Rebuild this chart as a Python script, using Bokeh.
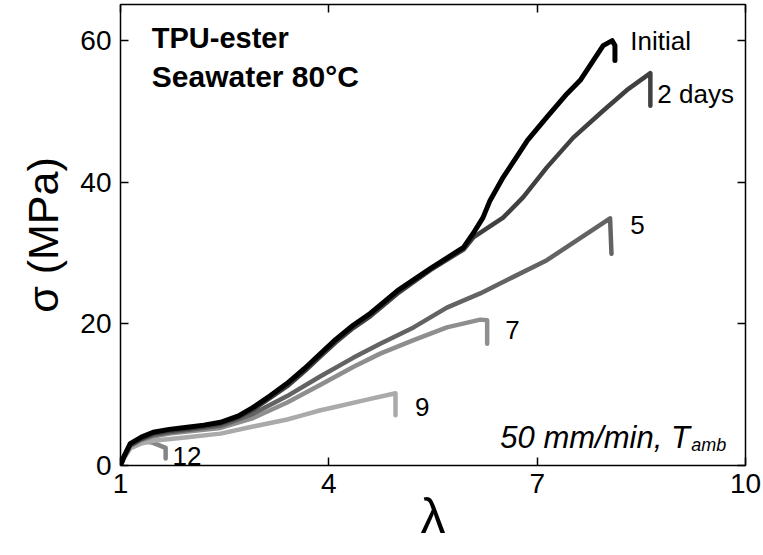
from bokeh.plotting import figure
from bokeh.models import Range1d, LinearAxis, FixedTicker, Label
from bokeh.embed import file_html
from bokeh.resources import INLINE

# ---- data ----
lam_initial = [1.0, 1.05, 1.14, 1.3, 1.47, 1.7, 1.96, 2.2, 2.44, 2.7, 2.91, 3.15, 3.40, 3.65, 3.88, 4.1, 4.35, 4.60,
               4.99, 5.46, 5.94, 6.08, 6.22, 6.32, 6.51, 6.70, 6.86, 7.14, 7.43, 7.62, 7.81, 7.95, 8.08, 8.12, 8.12]
sig_initial = [0.0, 1.3, 3.1, 4.0, 4.7, 5.1, 5.4, 5.7, 6.1, 7.0, 8.2, 9.8, 11.6, 13.7, 15.8, 17.8, 19.8, 21.5,
               24.7, 27.8, 30.8, 32.8, 35.0, 37.4, 40.7, 43.5, 45.9, 49.2, 52.5, 54.4, 57.2, 59.3, 60.0, 59.3, 57.2]

lam_2d = [1.0, 1.05, 1.14, 1.3, 1.47, 1.7, 1.96, 2.2, 2.44, 2.7, 2.91, 3.15, 3.40, 3.65, 3.88, 4.1, 4.35, 4.60,
          4.99, 5.46, 5.94, 6.08, 6.51, 6.80, 7.14, 7.52, 7.95, 8.29, 8.63, 8.63]
sig_2d = [0.0, 1.2, 2.9, 3.8, 4.5, 4.9, 5.2, 5.5, 5.9, 6.8, 7.9, 9.5, 11.2, 13.3, 15.4, 17.4, 19.4, 21.1,
          24.3, 27.6, 30.5, 32.2, 35.0, 37.9, 42.1, 46.3, 50.1, 53.0, 55.4, 50.8]

lam_5d = [1.0, 1.05, 1.14, 1.3, 1.47, 1.7, 1.96, 2.44, 2.91, 3.40, 3.88, 4.35, 4.74, 5.22, 5.70, 6.18, 6.65, 7.14,
          7.62, 8.05, 8.07]
sig_5d = [0.0, 1.2, 2.8, 3.7, 4.3, 4.7, 5.0, 5.6, 7.3, 9.8, 12.6, 15.2, 17.2, 19.5, 22.3, 24.3, 26.6, 29.0,
          32.1, 34.9, 29.9]

lam_7d = [1.0, 1.05, 1.14, 1.3, 1.47, 1.7, 1.96, 2.44, 2.91, 3.40, 3.88, 4.35, 4.74, 5.22, 5.70, 6.18, 6.28, 6.28]
sig_7d = [0.0, 1.1, 2.7, 3.6, 4.1, 4.5, 4.8, 5.3, 6.7, 8.9, 11.4, 13.9, 15.8, 17.7, 19.5, 20.6, 20.5, 17.2]

lam_9d = [1.0, 1.05, 1.14, 1.3, 1.47, 1.96, 2.44, 2.91, 3.40, 3.59, 3.88, 4.06, 4.55, 4.96, 4.96]
sig_9d = [0.0, 1.0, 2.4, 3.1, 3.5, 4.0, 4.5, 5.5, 6.5, 7.0, 7.8, 8.2, 9.3, 10.2, 7.1]

lam_12d = [1.0, 1.04, 1.08, 1.14, 1.2, 1.29, 1.47, 1.65, 1.65]
sig_12d = [0.0, 1.0, 1.8, 2.5, 3.0, 3.5, 3.2, 2.5, 1.0]

series = [
    ("12", lam_12d, sig_12d, "#858585"),
    ("9", lam_9d, sig_9d, "#aaaaaa"),
    ("7", lam_7d, sig_7d, "#8e8e8e"),
    ("5", lam_5d, sig_5d, "#636363"),
    ("2 days", lam_2d, sig_2d, "#404040"),
    ("Initial", lam_initial, sig_initial, "#000000"),
]

x_ticks = [1, 4, 7, 10]
y_ticks = [0, 20, 40, 60]

FONT = "Liberation Sans"

p = figure(width=763, height=555, output_backend="svg", toolbar_location=None,
           x_range=Range1d(1, 10), y_range=Range1d(0, 65.1),
           min_border_left=120, min_border_right=18, min_border_top=4, min_border_bottom=90,
           x_axis_label="λ", y_axis_label="σ (MPa)")
p.grid.visible = False
p.outline_line_color = "black"
p.outline_line_width = 1.5
p.background_fill_color = "white"
p.border_fill_color = "white"

for ax, ticks in ((p.xaxis[0], x_ticks), (p.yaxis[0], y_ticks)):
    ax.ticker = FixedTicker(ticks=ticks)
    ax.major_tick_in = 8
    ax.major_tick_out = 0
    ax.minor_tick_in = 0
    ax.minor_tick_out = 0
    ax.axis_line_color = None
    ax.major_tick_line_width = 1.5
    ax.major_label_text_font = FONT
    ax.major_label_text_font_size = "28px"
    ax.major_label_text_color = "black"
    ax.axis_label_text_font = FONT
    ax.axis_label_text_font_style = "normal"
    ax.axis_label_text_color = "black"

p.xaxis[0].axis_label_text_font_size = "50px"
p.xaxis[0].major_label_standoff = 8
p.xaxis[0].axis_label_standoff = -8
p.yaxis[0].axis_label_text_font_size = "43px"
p.yaxis[0].major_label_standoff = 9
p.yaxis[0].axis_label_standoff = 10

# mirrored axes (ticks only) on right and top
ax_r = LinearAxis(ticker=FixedTicker(ticks=y_ticks))
ax_t = LinearAxis(ticker=FixedTicker(ticks=x_ticks))
for ax in (ax_r, ax_t):
    ax.major_tick_in = 8
    ax.major_tick_out = 0
    ax.minor_tick_in = 0
    ax.minor_tick_out = 0
    ax.axis_line_color = None
    ax.major_tick_line_width = 1.5
    ax.major_label_text_font_size = "0px"
    ax.major_label_text_color = None
    ax.major_label_standoff = 0
p.add_layout(ax_r, "right")
p.add_layout(ax_t, "above")

for name, xs, ys, col in series:
    w = 5 if name == "Initial" else 4.5
    p.line(xs, ys, line_color=col, line_width=w, line_join="round", line_cap="round")

def lbl(x, y, t, size="26px", style="normal", align="left", base="middle"):
    p.add_layout(Label(x=x, y=y, text=t, text_font=FONT, text_font_size=size,
                       text_font_style=style, text_color="black",
                       text_align=align, text_baseline=base))

lbl(1.45, 60.3, "TPU-ester", "29px", "bold")
lbl(1.45, 55.0, "Seawater 80°C", "30px", "bold")
lbl(8.34, 60.0, "Initial")
lbl(8.73, 52.5, "2 days")
lbl(8.34, 33.9, "5")
lbl(6.54, 19.1, "7")
lbl(5.24, 8.2, "9")
lbl(1.75, 1.4, "12")
lbl(6.47, 3.9, "50 mm/min, T", "31px", "italic", base="alphabetic")
lbl(9.22, 2.9, "amb", "18px", "italic", base="alphabetic")

open("out.html", "w").write(file_html(p, INLINE))
